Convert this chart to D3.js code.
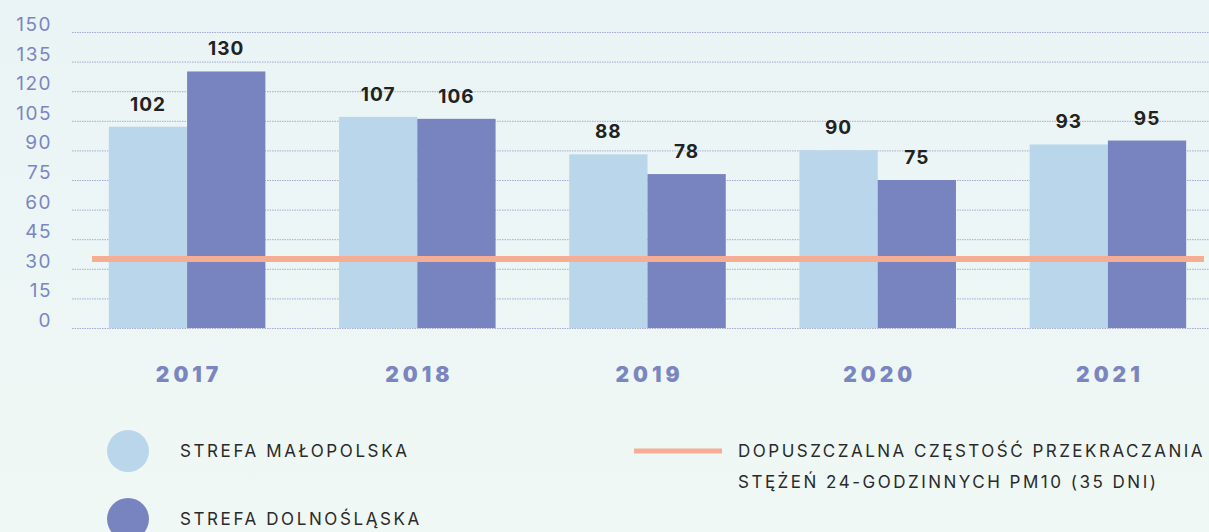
<!DOCTYPE html>
<html>
<head>
<meta charset="UTF-8">
<style>
  html, body { margin: 0; padding: 0; }
  body { width: 1209px; height: 532px; overflow: hidden; }
</style>
<script src="https://d3js.org/d3.v7.min.js"></script>
</head>
<body>
<script>
var width = 1209, height = 532;

// data
var years = ['2017', '2018', '2019', '2020', '2021'];
var malopolska = [102, 107, 88, 90, 93];
var dolnoslaska = [130, 106, 78, 75, 95];
var yTicks = [0, 15, 30, 45, 60, 75, 90, 105, 120, 135, 150];
var limit = 35;
var seriesNames = ['STREFA MAŁOPOLSKA', 'STREFA DOLNOŚLĄSKA'];
var limitLabel = ['DOPUSZCZALNA CZĘSTOŚĆ PRZEKRACZANIA', 'STĘŻEŃ 24-GODZINNYCH PM10 (35 DNI)'];

var colors = ['#bad6ea', '#7884bf'];
var lineColor = '#f5ad94';
var axisColor = '#7b86c0';

var svg = d3.select('body').append('svg').attr('width', width).attr('height', height);

var grad = svg.append('defs').append('linearGradient')
  .attr('id', 'bg').attr('x1', 0).attr('y1', 0).attr('x2', 0).attr('y2', 1);
grad.append('stop').attr('offset', '0%').attr('stop-color', '#eaf4f6');
grad.append('stop').attr('offset', '100%').attr('stop-color', '#eff8f4');
svg.append('rect').attr('width', width).attr('height', height).attr('fill', 'url(#bg)');

var y = d3.scaleLinear().domain([0, 150]).range([328, 32]);
var x = d3.scaleBand().domain(years).range([72, 1223]).paddingInner(0.32).paddingOuter(0.16);
var xs = d3.scaleBand().domain([0, 1]).range([0, x.bandwidth()]);

// grid
svg.append('g').selectAll('line').data(yTicks).join('line')
  .attr('x1', 72).attr('x2', width)
  .attr('y1', function(d) { return y(d) + 0.5; })
  .attr('y2', function(d) { return y(d) + 0.5; })
  .attr('stroke', '#a3abd3').attr('stroke-width', 1)
  .attr('stroke-dasharray', '1.5,1');

svg.append('g').selectAll('text').data(yTicks).join('text')
  .attr('x', 52).attr('y', function(d) { return y(d) - 1; })
  .attr('text-anchor', 'end')
  .attr('font-family', 'Inter, Roboto, sans-serif')
  .attr('font-size', 19).attr('letter-spacing', 1.5)
  .attr('fill', axisColor)
  .text(function(d) { return d; });

// bars
var groups = svg.append('g').selectAll('g').data(years).join('g')
  .attr('transform', function(d) { return 'translate(' + x(d) + ',0)'; });

var bars = groups.selectAll('g').data(function(d, i) {
    return [{s: 0, v: malopolska[i]}, {s: 1, v: dolnoslaska[i]}];
  }).join('g');

bars.append('rect')
  .attr('x', function(d) { return xs(d.s); })
  .attr('width', xs.bandwidth())
  .attr('y', function(d) { return y(d.v); })
  .attr('height', function(d) { return y(0) - y(d.v); })
  .attr('fill', function(d) { return colors[d.s]; });

bars.append('text')
  .attr('x', function(d) { return xs(d.s) + xs.bandwidth() / 2; })
  .attr('y', function(d) { return y(d.v) - 16; })
  .attr('text-anchor', 'middle')
  .attr('font-family', 'Inter, Roboto, sans-serif')
  .attr('font-weight', 700).attr('font-size', 19).attr('letter-spacing', 1)
  .attr('fill', '#222')
  .text(function(d) { return d.v; });

// limit line
svg.append('line')
  .attr('x1', 92).attr('x2', 1204)
  .attr('y1', y(limit)).attr('y2', y(limit))
  .attr('stroke', lineColor).attr('stroke-width', 6);

// year labels
svg.append('g').selectAll('text').data(years).join('text')
  .attr('x', function(d) { return x(d) + x.bandwidth() / 2 + 2; })
  .attr('y', 382)
  .attr('text-anchor', 'middle')
  .attr('font-family', 'Inter, sans-serif')
  .attr('font-weight', 900).attr('font-size', 21).attr('letter-spacing', 4)
  .attr('fill', axisColor)
  .text(function(d) { return d; });

// legend
var leg = svg.append('g');
seriesNames.forEach(function(name, i) {
  var cy = 451 + i * 68;
  leg.append('circle').attr('cx', 128).attr('cy', cy).attr('r', 21).attr('fill', colors[i]);
  leg.append('text').attr('x', 180).attr('y', cy + 6)
    .attr('font-family', 'Inter, sans-serif').attr('font-size', 17).attr('letter-spacing', 2.6)
    .attr('fill', '#2a2a2a').text(name);
});
leg.append('line').attr('x1', 634).attr('x2', 722).attr('y1', 451).attr('y2', 451)
  .attr('stroke', lineColor).attr('stroke-width', 5);
limitLabel.forEach(function(t, i) {
  leg.append('text').attr('x', 738).attr('y', 457 + i * 31)
    .attr('font-family', 'Inter, sans-serif').attr('font-size', 17).attr('letter-spacing', 2.5)
    .attr('fill', '#2a2a2a').text(t);
});
</script>
</body>
</html>
